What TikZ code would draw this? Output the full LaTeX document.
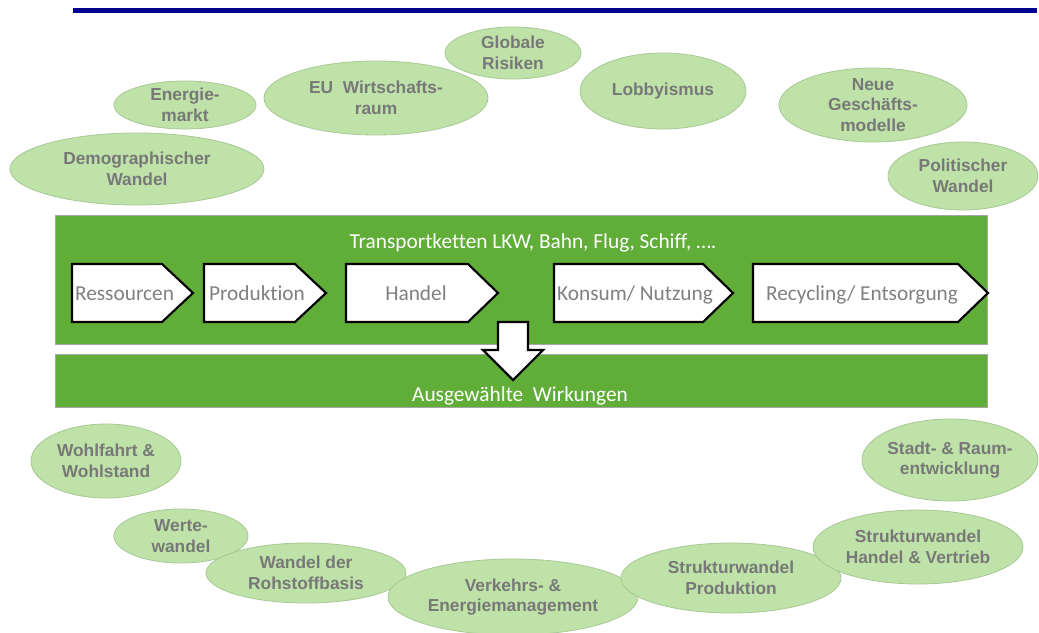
\documentclass[tikz,border=0pt]{standalone}
\usepackage{fontspec}
\setmainfont{Liberation Sans}
\newfontfamily\calfont[Ligatures=CommonOff]{Carlito}
\usetikzlibrary{shapes.geometric}
\definecolor{bandgreen}{RGB}{96,173,56}
\definecolor{bubfill}{RGB}{190,226,168}
\definecolor{bubline}{RGB}{168,200,150}
\definecolor{bubtext}{RGB}{120,120,120}
\definecolor{chevtext}{RGB}{128,128,128}
\definecolor{navyline}{RGB}{0,0,140}
\tikzset{
  bubble/.style={ellipse, draw=bubline, line width=0.6pt, fill=bubfill, inner sep=0pt},
  btext/.style={align=center, text=bubtext, font=\fontsize{13}{15.5}\selectfont\bfseries, inner sep=0pt},
  band/.style={fill=bandgreen, draw=black!35, line width=0.4pt},
  chev/.style={fill=white, draw=black, line width=1.6pt, line join=miter},
  chevlabel/.style={text=chevtext, font=\calfont\fontsize{16}{19}\selectfont, inner sep=0pt, anchor=base},
  bandlabel/.style={text=white, font=\calfont\fontsize{16}{19}\selectfont, inner sep=0pt, anchor=base},
}
\newcommand{\bub}[6]{%
  \node[bubble, minimum width={#4*1.5pt}, minimum height={#5*1.5pt}] (#1) at (#2,#3) {};
  \node[btext] (#1-t) at (#1) {#6};}
\newcommand{\chevron}[6]{% name, x1, xb, xt, y1, y2
  \draw[chev] (#2,#5) -- (#3,#5) -- (#4,{(#5+#6)/2}) -- (#3,#6) -- (#2,#6) -- cycle;
  \coordinate (#1) at ({(#2+#4)/2},{(#5+#6)/2});}
\begin{document}
\begin{tikzpicture}[x=0.75pt,y=-0.75pt]
\useasboundingbox (0,0) rectangle (1039,632);
\fill[white] (0,0) rectangle (1039,632);
% top rule
\fill[navyline] (73,8) rectangle (1037,13);
% top bubbles
\bub{glob}{513}{53}{68}{26}{Globale\\Risiken}
\bub{eu}{376}{98}{112}{37}{EU~~Wirtschafts-\\raum}
\bub{energ}{185}{105}{71}{24}{Energie-\\markt}
\bub{demo}{137}{169}{127}{36}{Demographischer\\Wandel}
\bub{lobby}{663}{91}{83}{38}{Lobbyismus}
\bub{neue}{873}{105}{94}{37}{Neue\\Geschäfts-\\modelle}
\bub{polit}{963}{176}{75}{34}{Politischer\\Wandel}
% bands
\draw[band] (55,215) rectangle (987,344);
\draw[band] (55,354) rectangle (987,407);
\node[bandlabel] (title) at (533,248) {Transportketten LKW, Bahn, Flug, Schiff, \dots.};
\node[bandlabel] (wirk) at (520,401) {Ausgewählte~~Wirkungen};
% chevrons
\chevron{c1}{72}{162}{193}{264}{322}
\chevron{c2}{204}{295}{326}{264}{322}
\chevron{c3}{346}{468}{498}{264}{322}
\chevron{c4}{554}{703}{733}{264}{322}
\chevron{c5}{753}{958}{988}{264}{322}
\node[chevlabel] (ress) at (124.5,300) {Ressourcen};
\node[chevlabel] (prod) at (257,300) {Produktion};
\node[chevlabel] (hand) at (416,300) {Handel};
\node[chevlabel] (kons) at (635,300) {Konsum/ Nutzung};
\node[chevlabel] (recy) at (862,300) {Recycling/ Entsorgung};
% down arrow
\draw[chev] (498,322) -- (528,322) -- (528,350) -- (543,350) -- (513,380) -- (483,350) -- (498,350) -- cycle;
\coordinate (downtip) at (513,380);
% bottom bubbles
\bub{wohl}{106}{461}{75}{37}{Wohlfahrt \&\\Wohlstand}
\bub{stadt}{950}{460}{88}{41}{Stadt- \& Raum-\\entwicklung}
\bub{werte}{181}{536}{67}{27}{Werte-\\wandel}
\bub{rohst}{306}{573}{100}{30}{Wandel der\\Rohstoffbasis}
\bub{verk}{513}{597}{125}{38}{Verkehrs- \&\\Energiemanagement}
\bub{strp}{731}{578}{110}{35}{Strukturwandel\\Produktion}
\bub{strh}{918}{547}{105}{37}{Strukturwandel\\Handel \& Vertrieb}
\end{tikzpicture}
\end{document}
